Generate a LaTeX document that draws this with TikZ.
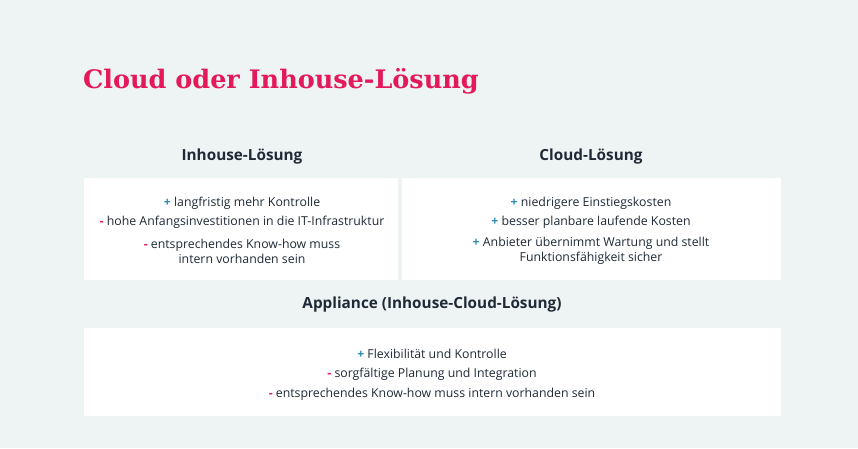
\documentclass[tikz,border=0pt]{standalone}
\usepackage{fontspec}
\setmainfont{Open Sans}
\newfontfamily\titlefont{DejaVu Serif}
\definecolor{bg}{HTML}{EEF3F4}
\definecolor{tred}{HTML}{E3195A}
\definecolor{tdark}{HTML}{1F2A36}
\definecolor{pblue}{HTML}{2E8BB8}
\newcommand{\pl}{{\color{pblue}\textbf{+}}}
\newcommand{\mi}{{\color{tred}\textbf{-}}}
\begin{document}
\begin{tikzpicture}[x=1pt,y=-1pt,
  card/.style={fill=white,draw=none},
  head/.style={font=\fontsize{15.3}{18}\selectfont\bfseries,text=tdark},
  body/.style={font=\fontsize{12.3}{15}\selectfont,text=tdark,align=center}]
\fill[bg] (0,0) rectangle (858,448);
\useasboundingbox (0,0) rectangle (858,448);
\node[anchor=west,inner sep=0pt,text=tred,font=\titlefont\fontsize{25.5}{30}\selectfont\bfseries] (title) at (83,81) {Cloud oder Inhouse-Lösung};
\node[head] (h1) at (242,157) {Inhouse-Lösung};
\node[head] (h2) at (591,157) {Cloud-Lösung};
\node[head] (h3) at (432,305) {Appliance (Inhouse-Cloud-Lösung)};
\fill[card] (84,178) rectangle (398,280);
\fill[card] (402,178) rectangle (781,280);
\fill[card] (84,328) rectangle (781,416);
\node[body] (a1) at (242,203) {\pl{} langfristig mehr Kontrolle};
\node[body] (a2) at (242,222) {\mi{} hohe Anfangsinvestitionen in die IT-Infrastruktur};
\node[body] (a3) at (242,251) {\mi{} entsprechendes Know-how muss\\intern vorhanden sein};
\node[body] (b1) at (591,203) {\pl{} niedrigere Einstiegskosten};
\node[body] (b2) at (591,222) {\pl{} besser planbare laufende Kosten};
\node[body] (b3) at (591,251) {\pl{} Anbieter übernimmt Wartung und stellt\\Funktionsfähigkeit sicher};
\node[body] (c1) at (432,354) {\pl{} Flexibilität und Kontrolle};
\node[body] (c2) at (432,374) {\mi{} sorgfältige Planung und Integration};
\node[body] (c3) at (432,394) {\mi{} entsprechendes Know-how muss intern vorhanden sein};
\end{tikzpicture}
\end{document}
